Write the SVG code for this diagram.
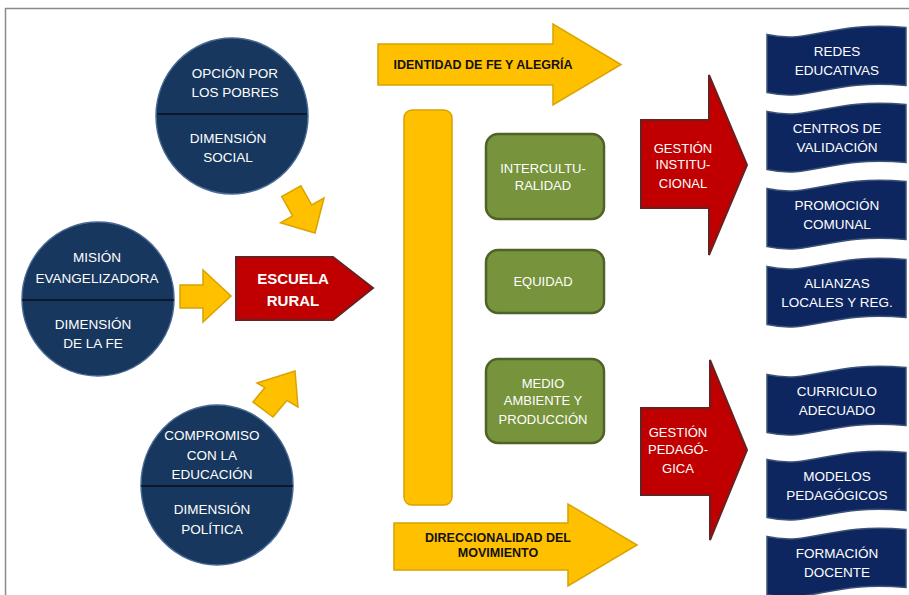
<svg xmlns="http://www.w3.org/2000/svg" width="909" height="595" viewBox="0 0 909 595">
<style>
.t{font-family:"Liberation Sans",Arial,sans-serif;font-size:13.5px;fill:#fff;text-anchor:middle}
.b{font-family:"Liberation Sans",Arial,sans-serif;font-size:12.5px;font-weight:bold;fill:#111;text-anchor:middle}
.circ{fill:#17375e;stroke:#4a6a96;stroke-width:1.5}
.div{stroke:#0a0f1a;stroke-width:1.5}
.yel{fill:#ffc000;stroke:#d9a300;stroke-width:1.5;stroke-linejoin:miter}
.red{fill:#c00000;stroke:#6a2020;stroke-width:2}
.grn{fill:#77933c;stroke:#4f6228;stroke-width:2.5}
.wav{fill:#0e2660;stroke:#3c5377;stroke-width:1.5}
</style>
<defs>
<path id="wave" d="M767,5 C812,15 830,-9 906,-2 L906,56 C830,49 812,73 767,63 Z"/>
</defs>
<rect x="5.5" y="8.5" width="1000" height="1000" fill="none" stroke="#8a8a8a" stroke-width="1.5"/>

<g id="connectors">
<polygon class="yel" points="300.9,185.8 311.8,205 324,198 315,233 280.5,222.8 292.6,215.8 281.7,196.6"/>
<polygon class="yel" points="180,285 203,285 203,270 231,296 203,322 203,308 180,308"/>
<polygon class="yel" points="253,402 264.9,387.6 257,383 295,371 298,407 286.8,400.4 273,417"/>
</g>

<g id="opcion">
<ellipse class="circ" cx="232" cy="116" rx="76" ry="78"/>
<line class="div" x1="157" y1="114" x2="307" y2="114"/>
<text class="t" x="235" y="77.5">OPCIÓN POR</text>
<text class="t" x="235" y="96.5">LOS POBRES</text>
<text class="t" x="228" y="142.5">DIMENSIÓN</text>
<text class="t" x="228" y="161.5">SOCIAL</text>
</g>

<g id="mision">
<ellipse class="circ" cx="98" cy="299" rx="76" ry="77"/>
<line class="div" x1="22" y1="300" x2="174" y2="300"/>
<text class="t" x="97" y="261.5">MISIÓN</text>
<text class="t" x="97" y="282.5">EVANGELIZADORA</text>
<text class="t" x="93" y="328.5">DIMENSIÓN</text>
<text class="t" x="93" y="347.5">DE LA FE</text>
</g>

<g id="compromiso">
<ellipse class="circ" cx="217" cy="485" rx="76" ry="80"/>
<line class="div" x1="141" y1="486" x2="293" y2="486"/>
<text class="t" x="212" y="439.5">COMPROMISO</text>
<text class="t" x="212" y="459.5">CON LA</text>
<text class="t" x="212" y="478.5">EDUCACIÓN</text>
<text class="t" x="212" y="513.5">DIMENSIÓN</text>
<text class="t" x="212" y="533.5">POLÍTICA</text>
</g>

<g id="escuela">
<polygon class="red" points="236,257 333,257 373,288 333,320 236,320"/>
<text class="t" x="293" y="283.5" style="font-size:15px;font-weight:bold">ESCUELA</text>
<text class="t" x="293" y="305.5" style="font-size:15px;font-weight:bold">RURAL</text>
</g>

<g id="identidad">
<polygon class="yel" points="378,44 553,44 553,24 621,64.5 553,105 553,85 378,85"/>
<text class="b" x="483" y="69">IDENTIDAD DE FE Y ALEGRÍA</text>
</g>

<g id="barra">
<rect class="yel" x="404" y="110" width="48" height="395" rx="8"/>
</g>

<g id="direccionalidad">
<polygon class="yel" points="394,523 568,523 568,504 637,545 568,586 568,570 394,570"/>
<text class="b" x="498" y="541.5">DIRECCIONALIDAD DEL</text>
<text class="b" x="498" y="557">MOVIMIENTO</text>
</g>

<g id="intercultura">
<rect class="grn" x="486" y="134" width="118" height="85" rx="12"/>
<text class="t" x="543" y="172.5" style="font-size:13px">INTERCULTU-</text>
<text class="t" x="543" y="189.5" style="font-size:13px">RALIDAD</text>
</g>
<g id="equidad">
<rect class="grn" x="486" y="250" width="118" height="63" rx="12"/>
<text class="t" x="543" y="285.5" style="font-size:13px">EQUIDAD</text>
</g>
<g id="medio">
<rect class="grn" x="486" y="359" width="118" height="84" rx="12"/>
<text class="t" x="543" y="387.5" style="font-size:13px">MEDIO</text>
<text class="t" x="543" y="404.5" style="font-size:13px">AMBIENTE Y</text>
<text class="t" x="543" y="423.5" style="font-size:13px">PRODUCCIÓN</text>
</g>

<g id="gestion-inst">
<polygon class="red" points="641,120 709,120 709,75 747,165 709,255 709,208 641,208"/>
<text class="t" x="683" y="152.5" style="font-size:13px">GESTIÓN</text>
<text class="t" x="683" y="168.5" style="font-size:13px">INSTITU-</text>
<text class="t" x="683" y="187.5" style="font-size:13px">CIONAL</text>
</g>
<g id="gestion-ped">
<polygon class="red" points="641,408 710,408 710,360 747,450 710,540 710,495 641,495"/>
<text class="t" x="678" y="436.5" style="font-size:13px">GESTIÓN</text>
<text class="t" x="678" y="453.5" style="font-size:13px">PEDAGÓ-</text>
<text class="t" x="678" y="472.5" style="font-size:13px">GICA</text>
</g>

<g id="redes"><use href="#wave" class="wav" transform="translate(0,29.5)"/>
<text class="t" x="837" y="55.5">REDES</text><text class="t" x="837" y="74.5">EDUCATIVAS</text></g>
<g id="centros"><use href="#wave" class="wav" transform="translate(0,106.5)"/>
<text class="t" x="837" y="132.5">CENTROS DE</text><text class="t" x="837" y="151.5">VALIDACIÓN</text></g>
<g id="promocion"><use href="#wave" class="wav" transform="translate(0,183.5)"/>
<text class="t" x="837" y="209.5">PROMOCIÓN</text><text class="t" x="837" y="228.5">COMUNAL</text></g>
<g id="alianzas"><use href="#wave" class="wav" transform="translate(0,261.5)"/>
<text class="t" x="837" y="287.5">ALIANZAS</text><text class="t" x="837" y="306.5">LOCALES Y REG.</text></g>
<g id="curriculo"><use href="#wave" class="wav" transform="translate(0,369.5)"/>
<text class="t" x="837" y="395.5">CURRICULO</text><text class="t" x="837" y="414.5">ADECUADO</text></g>
<g id="modelos"><use href="#wave" class="wav" transform="translate(0,454.5)"/>
<text class="t" x="837" y="480.5">MODELOS</text><text class="t" x="837" y="499.5">PEDAGÓGICOS</text></g>
<g id="formacion"><use href="#wave" class="wav" transform="translate(0,531.5)"/>
<text class="t" x="837" y="557.5">FORMACIÓN</text><text class="t" x="837" y="576.5">DOCENTE</text></g>
</svg>
